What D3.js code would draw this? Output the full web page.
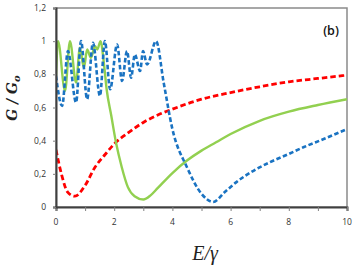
<!DOCTYPE html>
<html><head><meta charset="utf-8">
<script src="https://cdn.jsdelivr.net/npm/d3@7"></script>
<style>body{margin:0;background:#fff}svg{display:block}</style>
</head><body>
<svg id="c" width="354" height="273"></svg>
<script>
const xTicks = [0, 2, 4, 6, 8, 10];
const xMinorTicks = [0,1,2,3,4,5,6,7,8,9,10];
const yTicks = [0, 0.2, 0.4, 0.6, 0.8, 1, 1.2];
const yTickLabels = ["0", "0,2", "0,4", "0,6", "0,8", "1", "1,2"];

const blueX = [0, 0.21, 0.41, 0.69, 0.86, 1.07, 1.27, 1.51, 1.68, 1.86, 2.10, 2.27, 2.44, 2.58, 2.71, 2.89, 2.99, 3.13, 3.44, 3.7, 4.0, 4.5, 5.0, 5.4, 5.8, 6.2, 6.8, 7.35, 8.0, 8.5, 9.2, 10];
const blueY = [0.79, 0.61, 0.94, 0.63, 1.0, 0.65, 0.99, 0.67, 1.0, 0.71, 0.98, 0.76, 0.94, 0.78, 0.92, 0.82, 0.94, 0.86, 1.0, 0.75, 0.47, 0.24, 0.08, 0.03, 0.09, 0.15, 0.22, 0.27, 0.32, 0.36, 0.41, 0.47];

const greenX = [0, 0.07, 0.31, 0.48, 0.69, 0.82, 0.96, 1.07, 1.2, 1.34, 1.42, 1.53, 1.65, 1.74, 1.9, 2.06, 2.26, 2.47, 2.7, 3.0, 3.25, 3.5, 4.0, 4.5, 5.0, 5.5, 6.0, 7.0, 8.0, 9.0, 10];
const greenY = [0.79, 1.0, 0.70, 1.0, 0.75, 0.96, 0.84, 0.95, 0.9, 0.97, 0.95, 1.0, 0.86, 0.71, 0.55, 0.39, 0.24, 0.12, 0.065, 0.045, 0.07, 0.115, 0.205, 0.28, 0.34, 0.39, 0.44, 0.52, 0.575, 0.615, 0.65];

const redX = [0, 0.2, 0.4, 0.65, 1.0, 1.34, 1.68, 2.0, 2.5, 3.0, 3.5, 4.0, 5.0, 6.0, 7.0, 8.0, 9.0, 10];
const redY = [0.345, 0.19, 0.09, 0.065, 0.13, 0.24, 0.315, 0.38, 0.45, 0.51, 0.555, 0.59, 0.65, 0.69, 0.725, 0.755, 0.775, 0.795];

const svg = d3.select("#c");
const L = 56, R = 347, T = 8, B = 207;
const x = d3.scaleLinear().domain([0, 10]).range([L, R]);
const y = d3.scaleLinear().domain([0, 1.2]).range([B, T]);

svg.append("rect").attr("x", L).attr("y", T).attr("width", R - L).attr("height", B - T)
  .attr("fill", "none").attr("stroke", "#8a8a8a").attr("stroke-width", 1.5);

svg.append("clipPath").attr("id", "cp").append("rect")
  .attr("x", L).attr("y", T - 2).attr("width", R - L).attr("height", B - T + 2);

const line = d3.line().x(d => x(d[0])).y(d => y(d[1])).curve(d3.curveMonotoneX);
const g = svg.append("g").attr("clip-path", "url(#cp)");

g.append("path").datum(d3.zip(redX, redY)).attr("d", line)
  .attr("fill", "none").attr("stroke", "#ff0000").attr("stroke-width", 2.8).attr("stroke-dasharray", "5.5,3");
g.append("path").datum(d3.zip(greenX, greenY)).attr("d", line)
  .attr("fill", "none").attr("stroke", "#92d050").attr("stroke-width", 2.4);
g.append("path").datum(d3.zip(blueX, blueY)).attr("d", line)
  .attr("fill", "none").attr("stroke", "#1a73c2").attr("stroke-width", 2.6).attr("stroke-dasharray", "4.5,2.5");

const xAxis = svg.append("g").attr("transform", `translate(0,${B})`)
  .call(d3.axisBottom(x).tickValues(xMinorTicks).tickSize(4).tickFormat(""));
xAxis.select(".domain").attr("stroke", "#404040").attr("stroke-width", 2);
xAxis.selectAll(".tick line").attr("stroke", "#808080");

const yAxis = svg.append("g").attr("transform", `translate(${L},0)`)
  .call(d3.axisLeft(y).tickValues(yTicks).tickSize(3).tickFormat(""));
yAxis.select(".domain").attr("stroke", "#404040").attr("stroke-width", 2);
yAxis.selectAll(".tick line").attr("stroke", "#808080");

svg.append("g").selectAll("text").data(xTicks).join("text")
  .attr("x", d => x(d)).attr("y", 225).attr("text-anchor", "middle")
  .attr("font-family", "Open Sans, Liberation Sans, sans-serif").attr("font-size", 8.5).attr("fill", "#333")
  .text(d => d);

svg.append("g").selectAll("text").data(yTicks).join("text")
  .attr("x", 46).attr("y", d => y(d) + 3).attr("text-anchor", "end")
  .attr("font-family", "Open Sans, Liberation Sans, sans-serif").attr("font-size", 8.5).attr("fill", "#333")
  .text((d, i) => yTickLabels[i]);

svg.append("text").attr("x", 331).attr("y", 35).attr("text-anchor", "middle")
  .attr("font-family", "Open Sans, Liberation Sans, sans-serif").attr("font-size", 12.5).attr("font-weight", 600).attr("fill", "#111")
  .text("(b)");

const yt = svg.append("text").attr("transform", "translate(17,98) rotate(-90)").attr("text-anchor", "middle")
  .attr("font-family", "DejaVu Serif, Liberation Serif, serif").attr("font-size", 14).attr("font-style", "italic").attr("font-weight", "bold").attr("fill", "#222");
yt.append("tspan").text("G / G");
yt.append("tspan").attr("font-size", 10).attr("dy", 3).text("o");

svg.append("text").attr("x", 205).attr("y", 260).attr("text-anchor", "middle")
  .attr("font-family", "Liberation Serif, DejaVu Serif, serif").attr("font-size", 20).attr("font-style", "italic").attr("fill", "#222")
  .text("E/γ");
</script>
</body></html>
